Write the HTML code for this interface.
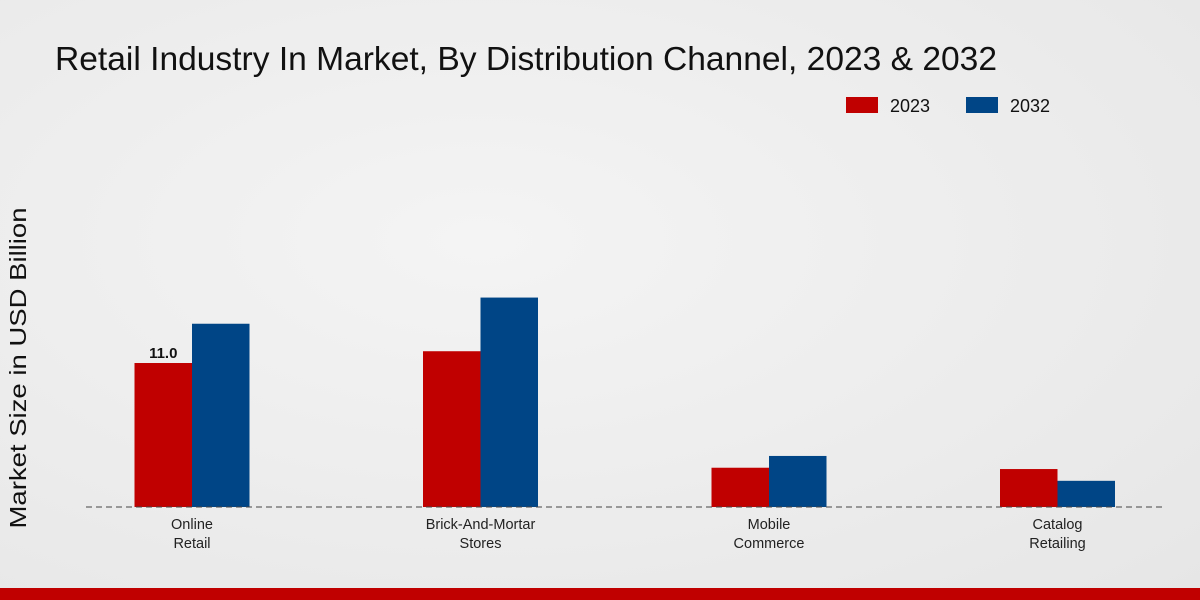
<!DOCTYPE html>
<html><head><meta charset="utf-8"><style>
html,body{margin:0;padding:0;width:1200px;height:600px;overflow:hidden}
body{background:radial-gradient(ellipse at 40% 40%,#f4f4f4 0%,#e6e6e6 100%);font-family:"Liberation Sans",sans-serif}
</style></head><body>
<svg width="1200" height="600" xmlns="http://www.w3.org/2000/svg">
<text x="55" y="70" font-size="33" fill="#111" textLength="942" lengthAdjust="spacingAndGlyphs">Retail Industry In Market, By Distribution Channel, 2023 &amp; 2032</text>
<g>
<rect x="846" y="97" width="32" height="16" fill="#c00000"/>
<text x="890" y="112" font-size="18" fill="#111">2023</text>
<rect x="966" y="97" width="32" height="16" fill="#004586"/>
<text x="1010" y="112" font-size="18" fill="#111">2032</text>
</g>
<text transform="translate(26,368) rotate(-90)" text-anchor="middle" font-size="23" fill="#111" textLength="321" lengthAdjust="spacingAndGlyphs">Market Size in USD Billion</text>
<g id="bars"></g>
<line x1="86" y1="507" x2="1165" y2="507" stroke="#444" stroke-dasharray="6,4"/>
<g id="labels"></g>
<rect x="0" y="588" width="1200" height="12" fill="#c00000"/>
</svg>
<script>
const categories=[["Online","Retail"],["Brick-And-Mortar","Stores"],["Mobile","Commerce"],["Catalog","Retailing"]];
const values2023=[11.0,11.9,3.0,2.9];
const values2032=[14.0,16.0,3.9,2.0];
const shownLabel=["11.0",null,null,null];
const base=507, scale=13.09, first=192, step=288.5, bw=57.5;
const y=v=>base-v*scale;
const ns="http://www.w3.org/2000/svg";
const bars=document.getElementById('bars'), labels=document.getElementById('labels');
function mk(t,a,p){const e=document.createElementNS(ns,t);for(const k in a)e.setAttribute(k,a[k]);p.appendChild(e);return e;}
categories.forEach((c,i)=>{
 const cx=first+i*step;
 const r1=mk('rect',{x:cx-bw,y:y(values2023[i]),width:bw,height:values2023[i]*scale,fill:'#c00000'},bars);
 
 
 const r2=mk('rect',{x:cx,y:y(values2032[i]),width:bw,height:values2032[i]*scale,fill:'#004586'},bars);
 
 
 if(shownLabel[i]){const t=mk('text',{x:cx-bw/2,y:y(values2023[i])-5,'text-anchor':'middle','font-size':15,'font-weight':'bold',fill:'#111'},labels);t.textContent=shownLabel[i];
 
 }
 c.forEach((ln,j)=>{const t=mk('text',{x:cx,y:529+j*19,'text-anchor':'middle','font-size':14.5,fill:'#222'},labels);t.textContent=ln;
 
 });
});
</script>
</body></html>
